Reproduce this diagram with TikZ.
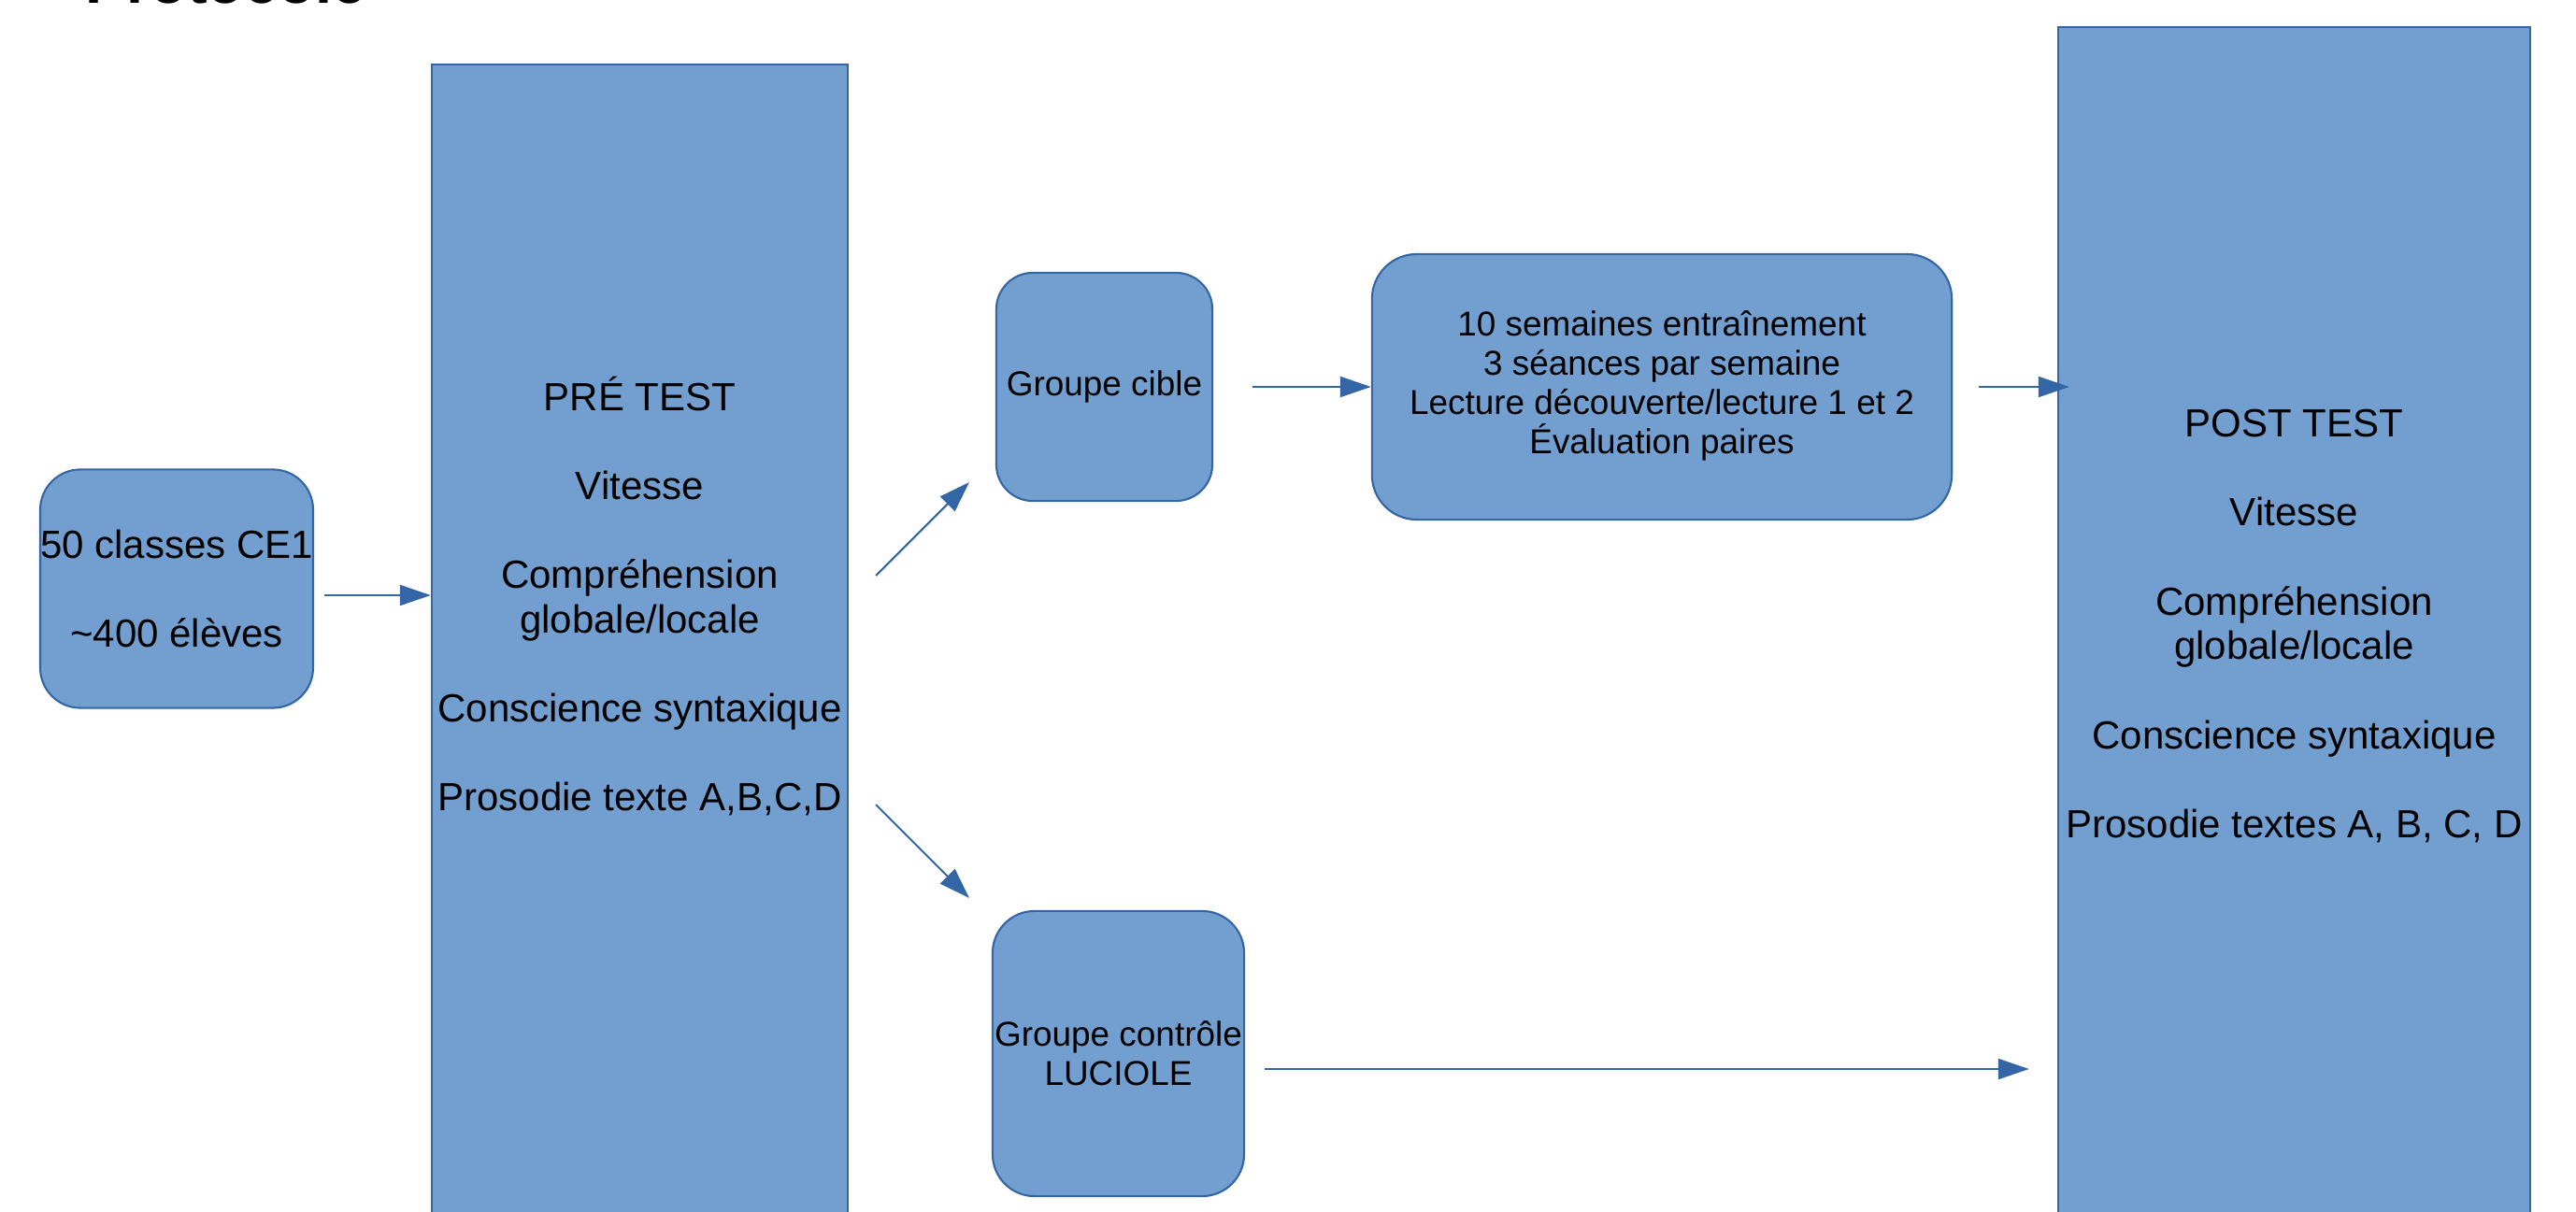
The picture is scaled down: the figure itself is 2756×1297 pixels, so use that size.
\documentclass[tikz,border=0pt]{standalone}
\usepackage{fontspec}
\setmainfont{Liberation Sans}
\usetikzlibrary{arrows.meta}
\definecolor{boxfill}{HTML}{729FCF}
\definecolor{boxline}{HTML}{3465A4}

\begin{document}
\begin{tikzpicture}[x=0.01cm,y=-0.01cm,
	round_node/.style={rectangle,fill=boxfill,draw=boxline,line width=0.6pt,inner sep=0pt,align=center},
	block_node/.style={rectangle,fill=boxfill,draw=boxline,line width=0.6pt,inner sep=0pt},
	big_text/.style={font=\fontsize{11.95}{13.55}\selectfont,align=center},
	small_text/.style={font=\fontsize{10.5}{11.9}\selectfont},
	link/.style={draw=boxline,line width=0.6pt,-{Triangle[length=0.33cm,width=0.22cm]}}]

		\clip (0,0) rectangle (2756,1297);

		\node[font=\fontsize{18.5}{22}\selectfont\bfseries,anchor=base west,inner sep=0pt] (title) at (91,4) {Protocole};

		\node[round_node,big_text,rounded corners=0.43cm,minimum width=2.86cm,minimum height=2.55cm] (start) at (189,630) {50 classes CE1\\[13.55pt]\textasciitilde400 élèves};
		\node[block_node,minimum width=4.45cm,minimum height=12.51cm] (pre) at (684.5,694.5) {};
		\node[big_text] (pre_text) at (684.5,638) {PRÉ TEST\\[13.55pt]Vitesse\\[13.55pt]Compréhension\\globale/locale\\[13.55pt]Conscience syntaxique\\[13.55pt]Prosodie texte A,B,C,D};
		\node[round_node,small_text,rounded corners=0.39cm,minimum width=2.31cm,minimum height=2.44cm] (cible) at (1181.5,414) {Groupe cible};
		\node[round_node,small_text,rounded corners=0.48cm,minimum width=6.20cm,minimum height=2.84cm,text depth=0.1cm] (train) at (1778,414) {10 semaines entraînement\\3 séances par semaine\\Lecture découverte/lecture 1 et 2\\Évaluation paires};
		\node[round_node,small_text,rounded corners=0.45cm,minimum width=2.69cm,minimum height=3.05cm] (controle) at (1196.5,1127.5) {Groupe contrôle\\LUCIOLE};
		\node[block_node,minimum width=5.05cm,minimum height=12.91cm] (post) at (2454.5,674.5) {};
		\node[big_text] (post_text) at (2454.5,670) {POST TEST\\[13.55pt]Vitesse\\[13.55pt]Compréhension\\globale/locale\\[13.55pt]Conscience syntaxique\\[13.55pt]Prosodie textes A, B, C, D};

		\coordinate (start_out) at (347,637);
		\coordinate (up_from) at (937,616);
		\coordinate (up_to) at (1037,516);
		\coordinate (down_from) at (937,861);
		\coordinate (down_to) at (1037,961);
		\coordinate (ctrl_out) at (1353,1144);

		\draw[link] (start_out) -- (start_out -| pre.west);
		\draw[link] (up_from) -- (up_to);
		\draw[link] (down_from) -- (down_to);
		\draw[link,shorten <=0.42cm] (cible) -- (train);
		\draw[link,shorten <=0.28cm,shorten >=-0.13cm] (train) -- (train -| post.west);
		\draw[link,shorten >=0.30cm] (ctrl_out) -- (ctrl_out -| post.west);
		\end{tikzpicture}
\end{document}
